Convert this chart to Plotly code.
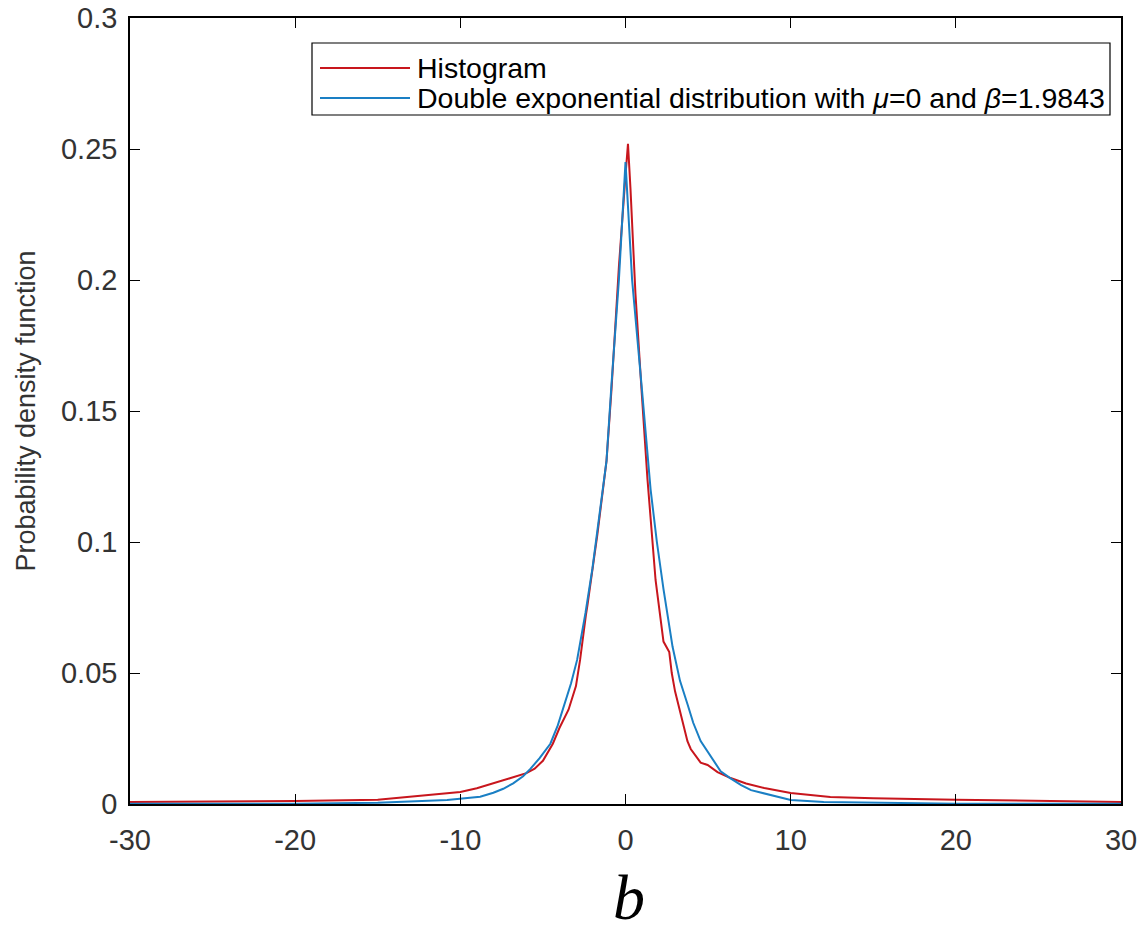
import plotly.graph_objects as go

# Histogram (red)
hist_x = [-30, -25, -20, -15, -12, -11, -10, -9, -8, -7, -6, -5.5, -5, -4.4, -4, -3.45, -3.0,
          -2.75, -2.4, -2.3, -1.7, -1.15, -0.85, -0.4, 0.0, 0.15, 0.3, 0.6, 0.95, 1.33, 1.82,
          2.2, 2.3, 2.65, 2.8, 3.0, 3.4, 3.75, 3.95, 4.55, 4.97, 5.57, 6.36, 7.3, 8.4, 10, 12.4,
          15, 20, 25, 30]
hist_y = [0.0008, 0.0009, 0.0011, 0.0016, 0.0033, 0.0040, 0.0046, 0.0060, 0.0078, 0.0098, 0.0118,
          0.0135, 0.0165, 0.023, 0.029, 0.036, 0.045, 0.055, 0.072, 0.076, 0.103, 0.131, 0.158,
          0.205, 0.240, 0.252, 0.235, 0.195, 0.160, 0.124, 0.0855, 0.066, 0.062, 0.058, 0.050,
          0.043, 0.033, 0.024, 0.021, 0.0158, 0.0149, 0.0122, 0.0099, 0.0078, 0.0061, 0.0042,
          0.0027, 0.0022, 0.0016, 0.0012, 0.0008]

# Double exponential fit (blue)
fit_x = [-30, -20, -15, -12, -10.8, -8.8, -8, -7.4, -6.8, -6.2, -5.76, -5.2, -4.55, -4.1, -3.64,
         -3.3, -2.93, -2.42, -2.0, -1.72, -1.15, -0.85, -0.4, 0.0, 0.4, 0.97, 1.52, 1.9, 2.3,
         2.85, 3.3, 3.76, 4.1, 4.55, 4.97, 5.35, 5.76, 6.36, 7.0, 7.6, 8.4, 9.2, 10, 12, 15, 20, 30]
fit_y = [0.00008, 0.0001, 0.0005, 0.0011, 0.0015, 0.0028, 0.0043, 0.0058, 0.0079, 0.0106, 0.0134,
         0.0175, 0.023, 0.030, 0.039, 0.046, 0.055, 0.073, 0.090, 0.103, 0.131, 0.160, 0.200,
         0.245, 0.200, 0.160, 0.120, 0.100, 0.082, 0.060, 0.047, 0.038, 0.031, 0.024, 0.020,
         0.016, 0.0125, 0.0098, 0.0072, 0.0053, 0.0040, 0.0026, 0.0015, 0.0008, 0.0005,
         0.0001, 0.00008]

x_ticks = [-30, -20, -10, 0, 10, 20, 30]
x_ticklabels = ["-30", "-20", "-10", "0", "10", "20", "30"]
y_ticks = [0, 0.05, 0.1, 0.15, 0.2, 0.25, 0.3]
y_ticklabels = ["0", "0.05", "0.1", "0.15", "0.2", "0.25", "0.3"]

legend_labels = ["Histogram",
                 "Double exponential distribution with <i>\u03bc</i>=0 and <i>\u03b2</i>=1.9843"]
colors = ["#c8161d", "#1a7fc4"]

FONT = "Liberation Sans, Arial, sans-serif"

# plot area in pixels
L, R, T, B = 130, 1121, 18, 804
W, H = 1145, 932
pw, ph = R - L, B - T

def px_x(p):
    return (p - L) / pw

def px_y(p):
    return (B - p) / ph

fig = go.Figure()
fig.add_trace(go.Scatter(x=hist_x, y=hist_y, mode="lines", name=legend_labels[0],
                         line=dict(color=colors[0], width=2), showlegend=False))
fig.add_trace(go.Scatter(x=fit_x, y=fit_y, mode="lines", name=legend_labels[1],
                         line=dict(color=colors[1], width=2), showlegend=False))

axis_common = dict(showline=True, linecolor="black", linewidth=1.5, mirror="ticks",
                   ticks="inside", ticklen=10, tickwidth=1.2, tickcolor="black",
                   showgrid=False, zeroline=False, automargin=False,
                   tickfont=dict(family=FONT, size=29, color="#333333"))

shapes = []
annotations = []
# legend box (drawn manually to match the MATLAB legend geometry)
shapes.append(dict(type="rect", xref="paper", yref="paper",
                   x0=px_x(312), x1=px_x(1110), y0=px_y(115), y1=px_y(43),
                   line=dict(color="black", width=1.2), fillcolor="white", layer="above"))
for i, (lab, col) in enumerate(zip(legend_labels, colors)):
    yy = 68 + 30 * i
    shapes.append(dict(type="line", xref="paper", yref="paper",
                       x0=px_x(320), x1=px_x(410), y0=px_y(yy), y1=px_y(yy),
                       line=dict(color=col, width=2), layer="above"))
    annotations.append(dict(text=lab, xref="paper", yref="paper", x=px_x(415), y=px_y(yy),
                            xanchor="left", yanchor="middle", showarrow=False,
                            font=dict(family=FONT, size=28.5, color="black")))

annotations.append(dict(text="<i>b</i>", xref="paper", yref="paper",
                        x=px_x(629), y=px_y(897), xanchor="center", yanchor="middle",
                        showarrow=False,
                        font=dict(family="Liberation Serif, Times New Roman, serif",
                                  size=64, color="black")))

fig.update_layout(
    width=W, height=H,
    margin=dict(l=L, r=W - R, t=T, b=H - B),
    plot_bgcolor="white", paper_bgcolor="white",
    xaxis=dict(range=[-30, 30], tickvals=x_ticks, ticktext=x_ticklabels,
               ticklabelstandoff=9, **axis_common),
    yaxis=dict(range=[0, 0.3], tickvals=y_ticks, ticktext=y_ticklabels,
               ticklabelstandoff=5,
               title=dict(text="Probability density function",
                          font=dict(family=FONT, size=27, color="#333333"), standoff=18),
               **axis_common),
    showlegend=False,
    shapes=shapes,
    annotations=annotations,
)

fig.write_html("out.html")
